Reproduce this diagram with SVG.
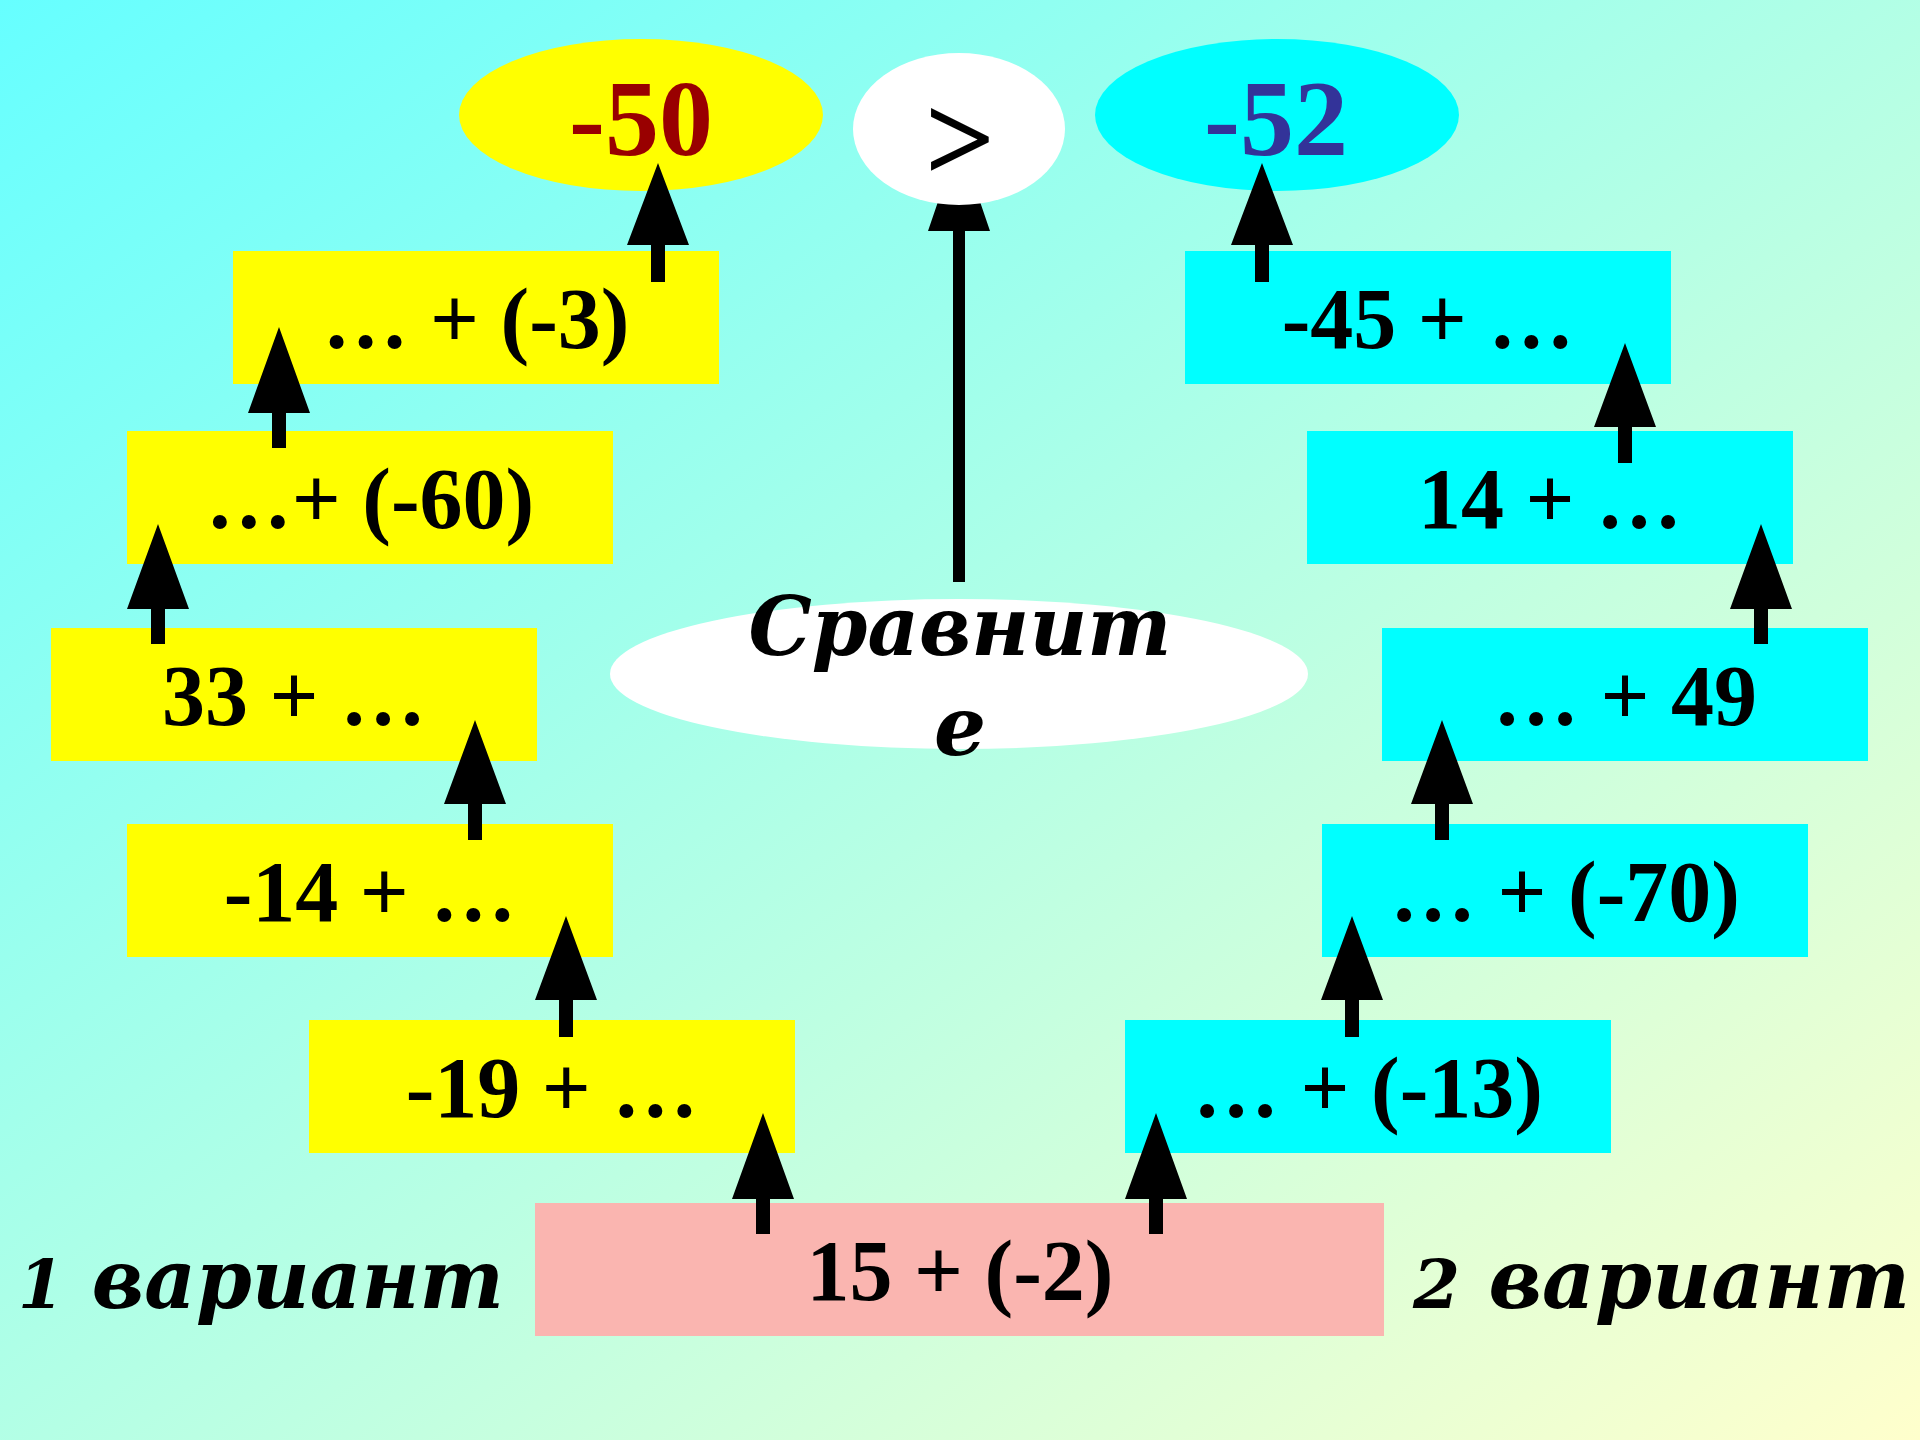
<svg xmlns="http://www.w3.org/2000/svg" width="1920" height="1440" viewBox="0 0 1920 1440">
<defs>
<linearGradient id="bg" x1="0" y1="0" x2="1" y2="1">
<stop offset="0" stop-color="#66FFFF"/>
<stop offset="1" stop-color="#FFFFCC"/>
</linearGradient>
<style>
.y{fill:#FFFF00}
.c{fill:#00FFFF}
.p{fill:#FAB5B0}
.w{fill:#FFFFFF}
.t{font-family:"Liberation Serif","Times New Roman",serif;font-weight:bold;font-size:86px;fill:#000;text-anchor:middle}
.big{font-family:"Liberation Serif","Times New Roman",serif;font-weight:bold;font-size:108px;text-anchor:middle}
.gt{font-family:"Liberation Serif","Times New Roman",serif;font-weight:bold;font-size:124px;fill:#000;text-anchor:middle}
.it{font-family:"DejaVu Serif","Liberation Serif",serif;font-weight:bold;font-style:italic;font-size:82px;fill:#000}
.arr{fill:#000}
</style>
</defs>
<rect width="1920" height="1440" fill="url(#bg)"/>

<g id="res1">
<ellipse class="y" cx="641" cy="115" rx="182" ry="76"/>
<text class="big" x="641" y="155" fill="#990000">-50</text>
</g>
<g id="res2">
<ellipse class="c" cx="1277" cy="115" rx="182" ry="76"/>
<text class="big" x="1276" y="155" fill="#333399">-52</text>
</g>
<g id="compare">
<ellipse class="w" cx="959" cy="674" rx="349" ry="75"/>
<text class="it" text-anchor="middle"><tspan x="960" y="655" textLength="423" lengthAdjust="spacingAndGlyphs">Сравнит</tspan><tspan x="960" y="755">е</tspan></text>
</g>

<g id="a1"><rect class="y" x="233" y="251" width="486" height="133"/><text class="t" x="476" y="348">… + (-3)</text></g>
<g id="a2"><rect class="y" x="127" y="431" width="486" height="133"/><text class="t" x="370" y="528">…+ (-60)</text></g>
<g id="a3"><rect class="y" x="51" y="628" width="486" height="133"/><text class="t" x="294" y="725">33 + …</text></g>
<g id="a4"><rect class="y" x="127" y="824" width="486" height="133"/><text class="t" x="370" y="921">-14 + …</text></g>
<g id="a5"><rect class="y" x="309" y="1020" width="486" height="133"/><text class="t" x="552" y="1117">-19 + …</text></g>
<g id="start"><rect class="p" x="535" y="1203" width="849" height="133"/><text class="t" x="960" y="1300">15 + (-2)</text></g>
<g id="b1"><rect class="c" x="1185" y="251" width="486" height="133"/><text class="t" x="1428" y="348">-45 + …</text></g>
<g id="b2"><rect class="c" x="1307" y="431" width="486" height="133"/><text class="t" x="1550" y="528">14 + …</text></g>
<g id="b3"><rect class="c" x="1382" y="628" width="486" height="133"/><text class="t" x="1625" y="725">… + 49</text></g>
<g id="b4"><rect class="c" x="1322" y="824" width="486" height="133"/><text class="t" x="1565" y="921">… + (-70)</text></g>
<g id="b5"><rect class="c" x="1125" y="1020" width="486" height="133"/><text class="t" x="1368" y="1117">… + (-13)</text></g>

<g id="label1"><text class="it" x="18" y="1308" textLength="486" lengthAdjust="spacingAndGlyphs"><tspan font-size="68">1</tspan> вариант</text></g>
<g id="label2"><text class="it" x="1413" y="1308" textLength="497" lengthAdjust="spacingAndGlyphs"><tspan font-size="68">2</tspan> вариант</text></g>

<g id="connectors">
<polygon class="arr" points="658,163 689,245 665,245 665,282 651,282 651,245 627,245"/>
<polygon class="arr" points="1262,163 1293,245 1269,245 1269,282 1255,282 1255,245 1231,245"/>
<polygon class="arr" points="279,327 310,413 286,413 286,448 272,448 272,413 248,413"/>
<polygon class="arr" points="158,524 189,609 165,609 165,644 151,644 151,609 127,609"/>
<polygon class="arr" points="475,720 506,804 482,804 482,840 468,840 468,804 444,804"/>
<polygon class="arr" points="566,916 597,1000 573,1000 573,1037 559,1037 559,1000 535,1000"/>
<polygon class="arr" points="763,1113 794,1199 770,1199 770,1234 756,1234 756,1199 732,1199"/>
<polygon class="arr" points="1156,1113 1187,1199 1163,1199 1163,1234 1149,1234 1149,1199 1125,1199"/>
<polygon class="arr" points="1352,916 1383,1000 1359,1000 1359,1037 1345,1037 1345,1000 1321,1000"/>
<polygon class="arr" points="1442,720 1473,804 1449,804 1449,840 1435,840 1435,804 1411,804"/>
<polygon class="arr" points="1761,524 1792,609 1768,609 1768,644 1754,644 1754,609 1730,609"/>
<polygon class="arr" points="1625,343 1656,427 1632,427 1632,463 1618,463 1618,427 1594,427"/>
<polygon class="arr" points="959,140 990,231 965,231 965,582 953,582 953,231 928,231"/>
</g>

<g id="cmp">
<ellipse class="w" cx="959" cy="129" rx="106" ry="76"/>
<text class="gt" x="960" y="181">&gt;</text>
</g>
</svg>
